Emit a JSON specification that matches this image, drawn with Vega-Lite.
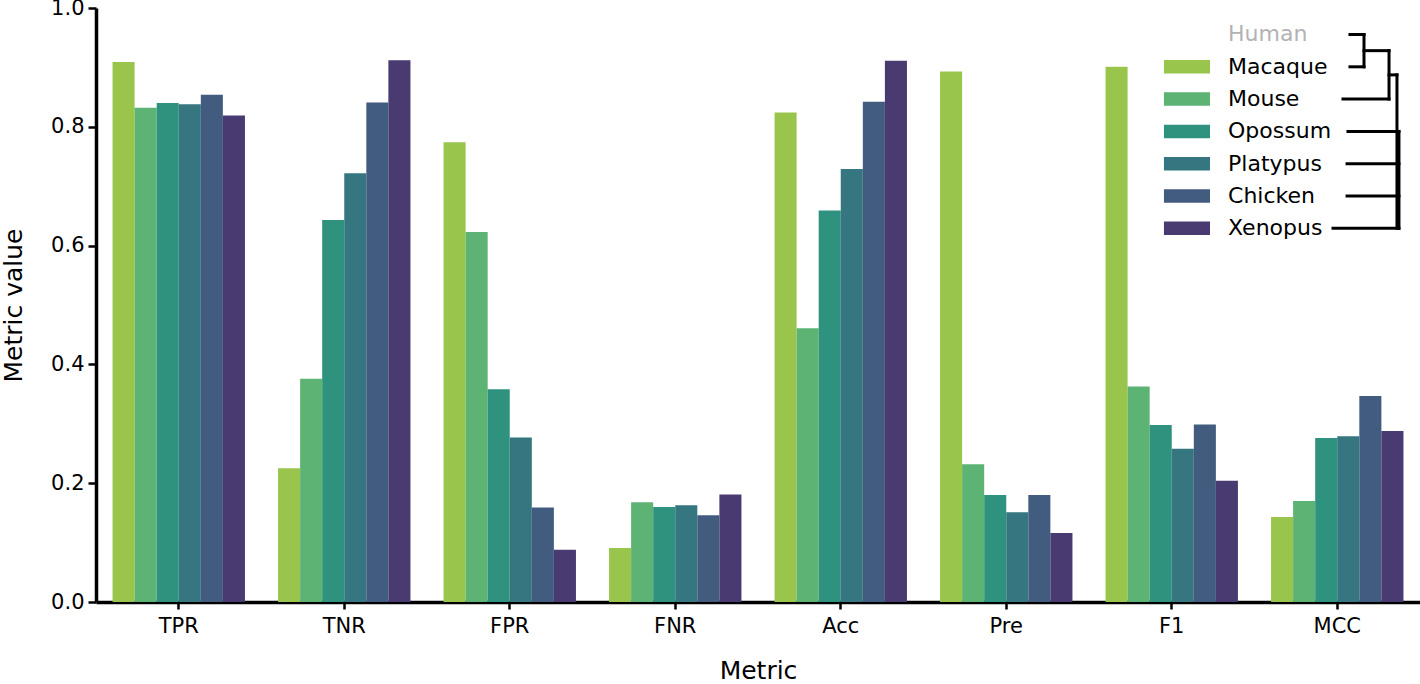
{
  "$schema": "https://vega.github.io/schema/vega-lite/v6.json",
  "width": 1324,
  "height": 594,
  "autosize": {"type": "none"},
  "padding": {"left": 96, "top": 8, "right": 0, "bottom": 82},
  "background": "white",
  "config": {
    "view": {"stroke": null},
    "font": "DejaVu Sans",
    "axis": {"grid": false, "domainColor": "black", "tickColor": "black", "labelColor": "black", "titleColor": "black", "labelFont": "DejaVu Sans", "titleFont": "DejaVu Sans", "titleFontWeight": "normal"}
  },
  "datasets": {
    "bars": [
      {"metric": "TPR", "species": "Macaque", "value": 0.909},
      {"metric": "TPR", "species": "Mouse", "value": 0.832},
      {"metric": "TPR", "species": "Opossum", "value": 0.840},
      {"metric": "TPR", "species": "Platypus", "value": 0.838},
      {"metric": "TPR", "species": "Chicken", "value": 0.854},
      {"metric": "TPR", "species": "Xenopus", "value": 0.819},
      {"metric": "TNR", "species": "Macaque", "value": 0.225},
      {"metric": "TNR", "species": "Mouse", "value": 0.376},
      {"metric": "TNR", "species": "Opossum", "value": 0.643},
      {"metric": "TNR", "species": "Platypus", "value": 0.722},
      {"metric": "TNR", "species": "Chicken", "value": 0.841},
      {"metric": "TNR", "species": "Xenopus", "value": 0.912},
      {"metric": "FPR", "species": "Macaque", "value": 0.774},
      {"metric": "FPR", "species": "Mouse", "value": 0.623},
      {"metric": "FPR", "species": "Opossum", "value": 0.358},
      {"metric": "FPR", "species": "Platypus", "value": 0.277},
      {"metric": "FPR", "species": "Chicken", "value": 0.159},
      {"metric": "FPR", "species": "Xenopus", "value": 0.088},
      {"metric": "FNR", "species": "Macaque", "value": 0.091},
      {"metric": "FNR", "species": "Mouse", "value": 0.168},
      {"metric": "FNR", "species": "Opossum", "value": 0.160},
      {"metric": "FNR", "species": "Platypus", "value": 0.163},
      {"metric": "FNR", "species": "Chicken", "value": 0.146},
      {"metric": "FNR", "species": "Xenopus", "value": 0.181},
      {"metric": "Acc", "species": "Macaque", "value": 0.824},
      {"metric": "Acc", "species": "Mouse", "value": 0.461},
      {"metric": "Acc", "species": "Opossum", "value": 0.659},
      {"metric": "Acc", "species": "Platypus", "value": 0.729},
      {"metric": "Acc", "species": "Chicken", "value": 0.842},
      {"metric": "Acc", "species": "Xenopus", "value": 0.911},
      {"metric": "Pre", "species": "Macaque", "value": 0.893},
      {"metric": "Pre", "species": "Mouse", "value": 0.232},
      {"metric": "Pre", "species": "Opossum", "value": 0.180},
      {"metric": "Pre", "species": "Platypus", "value": 0.151},
      {"metric": "Pre", "species": "Chicken", "value": 0.180},
      {"metric": "Pre", "species": "Xenopus", "value": 0.116},
      {"metric": "F1", "species": "Macaque", "value": 0.901},
      {"metric": "F1", "species": "Mouse", "value": 0.363},
      {"metric": "F1", "species": "Opossum", "value": 0.298},
      {"metric": "F1", "species": "Platypus", "value": 0.258},
      {"metric": "F1", "species": "Chicken", "value": 0.299},
      {"metric": "F1", "species": "Xenopus", "value": 0.204},
      {"metric": "MCC", "species": "Macaque", "value": 0.143},
      {"metric": "MCC", "species": "Mouse", "value": 0.170},
      {"metric": "MCC", "species": "Opossum", "value": 0.276},
      {"metric": "MCC", "species": "Platypus", "value": 0.279},
      {"metric": "MCC", "species": "Chicken", "value": 0.347},
      {"metric": "MCC", "species": "Xenopus", "value": 0.288}
    ],
    "legend": [
      {"species": "Human", "row": 0, "color": "#ffffff", "textcolor": "#b3b3b3"},
      {"species": "Macaque", "row": 1, "color": "#9ac54d", "textcolor": "#000000"},
      {"species": "Mouse", "row": 2, "color": "#5db374", "textcolor": "#000000"},
      {"species": "Opossum", "row": 3, "color": "#2f927e", "textcolor": "#000000"},
      {"species": "Platypus", "row": 4, "color": "#357680", "textcolor": "#000000"},
      {"species": "Chicken", "row": 5, "color": "#425c80", "textcolor": "#000000"},
      {"species": "Xenopus", "row": 6, "color": "#4a3a72", "textcolor": "#000000"}
    ],
    "tree": [
      {"x": 0.9471, "x2": 0.9577, "y": 0, "y2": 0},
      {"x": 0.9471, "x2": 0.9577, "y": 1, "y2": 1},
      {"x": 0.9577, "x2": 0.9577, "y": 0, "y2": 1},
      {"x": 0.9577, "x2": 0.9766, "y": 0.5, "y2": 0.5},
      {"x": 0.9418, "x2": 0.9766, "y": 2, "y2": 2},
      {"x": 0.9766, "x2": 0.9766, "y": 0.5, "y2": 2},
      {"x": 0.9766, "x2": 0.9826, "y": 1.25, "y2": 1.25},
      {"x": 0.9826, "x2": 0.9826, "y": 1.25, "y2": 6},
      {"x": 0.9841, "x2": 0.9841, "y": 3, "y2": 6},
      {"x": 0.9456, "x2": 0.9841, "y": 3, "y2": 3},
      {"x": 0.9449, "x2": 0.9841, "y": 4, "y2": 4},
      {"x": 0.9449, "x2": 0.9841, "y": 5, "y2": 5},
      {"x": 0.9343, "x2": 0.9841, "y": 6, "y2": 6}
    ]
  },
  "layer": [
    {
      "data": {"name": "bars"},
      "mark": {"type": "bar"},
      "encoding": {
        "x": {
          "field": "metric", "type": "nominal",
          "sort": ["TPR", "TNR", "FPR", "FNR", "Acc", "Pre", "F1", "MCC"],
          "scale": {"paddingInner": 0.2, "paddingOuter": 0.1},
          "axis": {"title": "Metric", "labelAngle": 0, "labelFontSize": 21, "titleFontSize": 25, "tickSize": 7, "tickWidth": 2.5, "domainWidth": 3.5, "labelPadding": 6, "titlePadding": 22}
        },
        "xOffset": {
          "field": "species", "type": "nominal",
          "sort": ["Macaque", "Mouse", "Opossum", "Platypus", "Chicken", "Xenopus"],
          "scale": {"paddingInner": 0, "paddingOuter": 0}
        },
        "y": {
          "field": "value", "type": "quantitative",
          "scale": {"domain": [0, 1], "nice": false},
          "axis": {"title": "Metric value", "values": [0, 0.2, 0.4, 0.6, 0.8, 1], "format": ".1f", "labelFontSize": 21, "titleFontSize": 25, "tickSize": 8, "tickWidth": 2.5, "domainWidth": 3.5, "labelPadding": 4, "titlePadding": 24}
        },
        "color": {
          "field": "species", "type": "nominal",
          "scale": {"domain": ["Macaque", "Mouse", "Opossum", "Platypus", "Chicken", "Xenopus"], "range": ["#9ac54d", "#5db374", "#2f927e", "#357680", "#425c80", "#4a3a72"]},
          "legend": null
        }
      }
    },
    {
      "data": {"name": "legend"},
      "transform": [{"filter": "datum.row > 0"}],
      "mark": {"type": "rule", "strokeWidth": 13.5, "strokeCap": "butt"},
      "encoding": {
        "x": {"datum": 0.8066, "type": "quantitative", "scale": {"domain": [0, 1], "nice": false, "zero": false}, "axis": null},
        "x2": {"datum": 0.8414},
        "y": {"field": "row", "type": "quantitative", "scale": {"domain": [-0.8204, 17.5696], "reverse": true, "nice": false, "zero": false}, "axis": null},
        "color": {"field": "color", "type": "nominal", "scale": null}
      }
    },
    {
      "data": {"name": "legend"},
      "mark": {"type": "text", "align": "left", "baseline": "middle", "fontSize": 22, "font": "DejaVu Sans"},
      "encoding": {
        "x": {"datum": 0.855, "type": "quantitative", "scale": {"domain": [0, 1], "nice": false, "zero": false}, "axis": null},
        "y": {"field": "row", "type": "quantitative", "scale": {"domain": [-0.8204, 17.5696], "reverse": true, "nice": false, "zero": false}, "axis": null},
        "text": {"field": "species"},
        "color": {"field": "textcolor", "type": "nominal", "scale": null}
      }
    },
    {
      "data": {"name": "tree"},
      "mark": {"type": "rule", "color": "black", "strokeWidth": 3, "strokeCap": "square"},
      "encoding": {
        "x": {"field": "x", "type": "quantitative", "scale": {"domain": [0, 1], "nice": false, "zero": false}, "axis": null},
        "x2": {"field": "x2"},
        "y": {"field": "y", "type": "quantitative", "scale": {"domain": [-0.8204, 17.5696], "reverse": true, "nice": false, "zero": false}, "axis": null},
        "y2": {"field": "y2"}
      }
    }
  ],
  "resolve": {"scale": {"x": "independent", "y": "independent", "color": "independent"}}
}
